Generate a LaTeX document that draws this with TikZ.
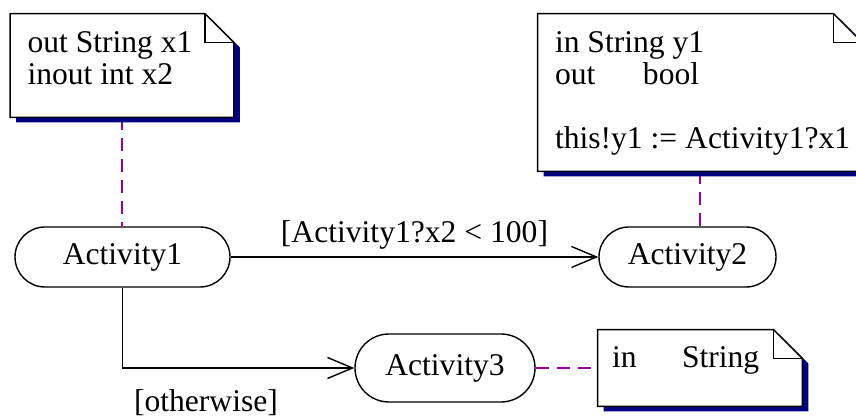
\documentclass[tikz,border=0pt]{standalone}
\usepackage{fontspec}
\setmainfont{Liberation Serif}
\usetikzlibrary{arrows.meta,shapes.misc,calc}
\definecolor{shadownavy}{RGB}{0,0,128}
\definecolor{notelink}{RGB}{153,0,153}
\tikzset{
  activity/.style={draw, rounded rectangle, minimum height=30pt, line width=0.7pt, inner sep=0pt},
  noteshape/.style={inner sep=0pt},
  notetext/.style={inner sep=0pt, align=left, anchor=north west},
  flow/.style={line width=0.7pt, -{Straight Barb[length=12.5pt, width=10.5pt]}},
  link/.style={notelink, line width=0.6pt, dash pattern=on 6.5pt off 4pt}
}
% a note: navy shadow, white body, folded corner
\newcommand{\notefold}[1]{%
  \fill[shadownavy] ([shift={(6,-5)}]#1.north west) -- ([shift={(-23,-5)}]#1.north east)
    -- ([shift={(6,-34)}]#1.north east) -- ([shift={(6,-5)}]#1.south east)
    -- ([shift={(6,-5)}]#1.south west) -- cycle;
  \filldraw[fill=white, line width=0.7pt] (#1.north west) -- ([shift={(-29,0)}]#1.north east)
    -- ([shift={(0,-29)}]#1.north east) -- (#1.south east) -- (#1.south west) -- cycle;
  \draw[line width=0.7pt] ([shift={(-29,0)}]#1.north east) |- ([shift={(0,-29)}]#1.north east);
}
\begin{document}
\begin{tikzpicture}[x=0.5pt, y=0.5pt, font=\fontsize{15.8pt}{16pt}\selectfont]
\useasboundingbox (0,0) rectangle (856,416);

\node[activity, minimum width=107.5pt](a1) at (122.5,159) {Activity1};
\node[activity, minimum width=88.5pt](a2) at (687.5,159) {Activity2};
\node[activity, minimum width=90pt, minimum height=34pt](a3) at (445,48) {Activity3};

\node[noteshape, minimum width=111.5pt, minimum height=51.5pt](n1) at (122,350.5) {};
\node[noteshape, minimum width=162pt, minimum height=78.5pt](n2) at (700,323.5) {};
\node[noteshape, minimum width=102pt, minimum height=38pt](n3) at (700,48) {};

\draw[link](n1.south)--(n1.south |- a1.north);
\draw[link](n2.south)--(n2.south |- a2.north);
\draw[link](a3.east)--(n3.west);

\draw[flow](a1.east)--node[above]{[Activity1?x2 < 100]}(a2.west);
\draw[flow](a1.south)--(a1.south |- a3.west)--node[below=7pt, pos=0.36]{[otherwise]}(a3.west);

\notefold{n1}
\notefold{n2}
\notefold{n3}
\node[notetext](n1text) at ([shift={(17,-17.5)}]n1.north west) {out String x1\\inout int x2};
\node[notetext](n2text) at ([shift={(17,-17.5)}]n2.north west) {in String y1\\\makebox[44pt][l]{out}bool\\[16pt]this!y1 := Activity1?x1};
\node[notetext](n3text) at ([shift={(14,-16.5)}]n3.north west) {\makebox[35pt][l]{in}String};
\end{tikzpicture}
\end{document}
